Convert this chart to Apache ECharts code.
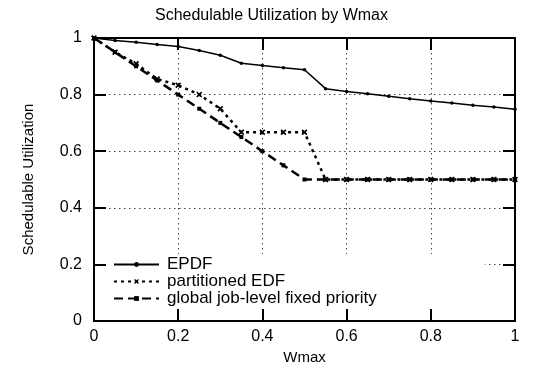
<!DOCTYPE html>
<html>
<head>
<meta charset="utf-8">
<script src="https://cdn.jsdelivr.net/npm/echarts@6/dist/echarts.min.js"></script>
<style>html,body{margin:0;padding:0;background:#fff;}#c{width:543px;height:373px;}</style>
</head>
<body>
<div id="c"></div>
<script>
var wmax = [0, 0.05, 0.1, 0.15, 0.2, 0.25, 0.3, 0.35, 0.4, 0.45, 0.5, 0.55, 0.6, 0.65, 0.7, 0.75, 0.8, 0.85, 0.9, 0.95, 1.0];
var epdf = [1.0, 0.991, 0.985, 0.977, 0.970, 0.956, 0.939, 0.911, 0.903, 0.895, 0.888, 0.821, 0.811, 0.803, 0.794, 0.785, 0.777, 0.770, 0.762, 0.756, 0.748];
var partitionedEDF = [1.0, 0.95, 0.909, 0.855, 0.833, 0.8, 0.75, 0.667, 0.667, 0.667, 0.667, 0.5, 0.5, 0.5, 0.5, 0.5, 0.5, 0.5, 0.5, 0.5, 0.5];
var globalJLFP = [1.0, 0.95, 0.9, 0.85, 0.8, 0.75, 0.7, 0.65, 0.6, 0.55, 0.5, 0.5, 0.5, 0.5, 0.5, 0.5, 0.5, 0.5, 0.5, 0.5, 0.5];
var innerTicks = [0.2, 0.4, 0.6, 0.8];
var seriesNames = ['EPDF', 'partitioned EDF', 'global job-level fixed priority'];
var titleText = 'Schedulable Utilization by Wmax';
var xName = 'Wmax';
var yName = 'Schedulable Utilization';

function pairs(ys) { return wmax.map(function (x, i) { return [x, ys[i]]; }); }

var FONT = '"Liberation Sans", Arial, Helvetica, sans-serif';
var starPath = 'path://M0,2 L2,0 L5,3 L8,0 L10,2 L7,5 L10,8 L8,10 L5,7 L2,10 L0,8 L3,5 Z';

// mirrored inward tick marks (gnuplot style), expressed in axis units
var TX = 0.0285, TY = 0.0424;
var tickMarks = [];
innerTicks.forEach(function (t) {
  tickMarks.push([{ coord: [t, 1] }, { coord: [t, 1 - TY] }]);
  tickMarks.push([{ coord: [t, 0] }, { coord: [t, TY] }]);
  tickMarks.push([{ coord: [1, t] }, { coord: [1 - TX, t] }]);
  tickMarks.push([{ coord: [0, t] }, { coord: [TX, t] }]);
});

function ax(extra) {
  var base = {
    type: 'value', min: 0, max: 1, interval: 0.2,
    axisLine: { show: true, onZero: false, lineStyle: { color: '#000', width: 2 } },
    axisTick: { show: true, inside: true, length: 12, lineStyle: { color: '#000', width: 2 } }
  };
  return Object.assign(base, extra);
}

var chart = echarts.init(document.getElementById('c'));
chart.setOption({
  animation: false,
  backgroundColor: '#fff',
  textStyle: { fontFamily: FONT },
  title: { text: titleText, left: 'center', top: 3, textStyle: { fontFamily: FONT, fontSize: 16, fontWeight: 'normal', color: '#000' } },
  grid: { left: 94, right: 28, top: 38, bottom: 52 },
  legend: {
    orient: 'vertical', left: 98, top: 254,
    padding: [2, 108, 2, 15],
    itemGap: 0, itemWidth: 45, itemHeight: 6,
    backgroundColor: '#fff',
    textStyle: { fontFamily: FONT, fontSize: 17, color: '#000', lineHeight: 16.5, padding: [0, 0, 0, 3] },
    data: seriesNames
  },
  xAxis: [
    ax({ position: 'bottom', name: xName, nameLocation: 'middle', nameGap: 28,
      nameTextStyle: { fontFamily: FONT, fontSize: 15, color: '#000' },
      axisLabel: { color: '#000', fontSize: 16, margin: 8, fontFamily: FONT },
      splitLine: { show: true, lineStyle: { color: '#444', width: 1, type: [1.5, 3.5] } } }),
    ax({ position: 'top', axisLabel: { show: true, color: 'rgba(0,0,0,0)' },
      splitLine: { show: true, lineStyle: { color: 'rgba(0,0,0,0)' } } })
  ],
  yAxis: [
    ax({ position: 'left', name: yName, nameLocation: 'middle', nameGap: 58,
      nameTextStyle: { fontFamily: FONT, fontSize: 15, color: '#000' },
      axisLabel: { color: '#000', fontSize: 16, margin: 12, fontFamily: FONT },
      splitLine: { show: true, lineStyle: { color: '#444', width: 1, type: [1.5, 3.5] } } }),
    ax({ position: 'right', axisLabel: { show: true, color: 'rgba(0,0,0,0)' },
      splitLine: { show: true, lineStyle: { color: 'rgba(0,0,0,0)' } } })
  ],
  series: [
    { name: seriesNames[0], type: 'line', data: pairs(epdf), showAllSymbol: true,
      symbol: 'circle', symbolSize: 3.5,
      lineStyle: { color: '#000', width: 1.5, type: 'solid' }, itemStyle: { color: '#000' },
      markLine: { silent: true, symbol: 'none', animation: false, label: { show: false },
        lineStyle: { color: '#000', width: 2, type: 'solid' },
        emphasis: { disabled: true },
        data: tickMarks } },
    { name: seriesNames[1], type: 'line', data: pairs(partitionedEDF), showAllSymbol: true,
      symbol: starPath, symbolSize: 6,
      lineStyle: { color: '#000', width: 2.5, type: [3, 4] }, itemStyle: { color: '#000' } },
    { name: seriesNames[2], type: 'line', data: pairs(globalJLFP), showAllSymbol: true,
      symbol: 'rect', symbolSize: 4,
      lineStyle: { color: '#000', width: 2.5, type: [9, 5] }, itemStyle: { color: '#000' } }
  ]
});
</script>
</body>
</html>
